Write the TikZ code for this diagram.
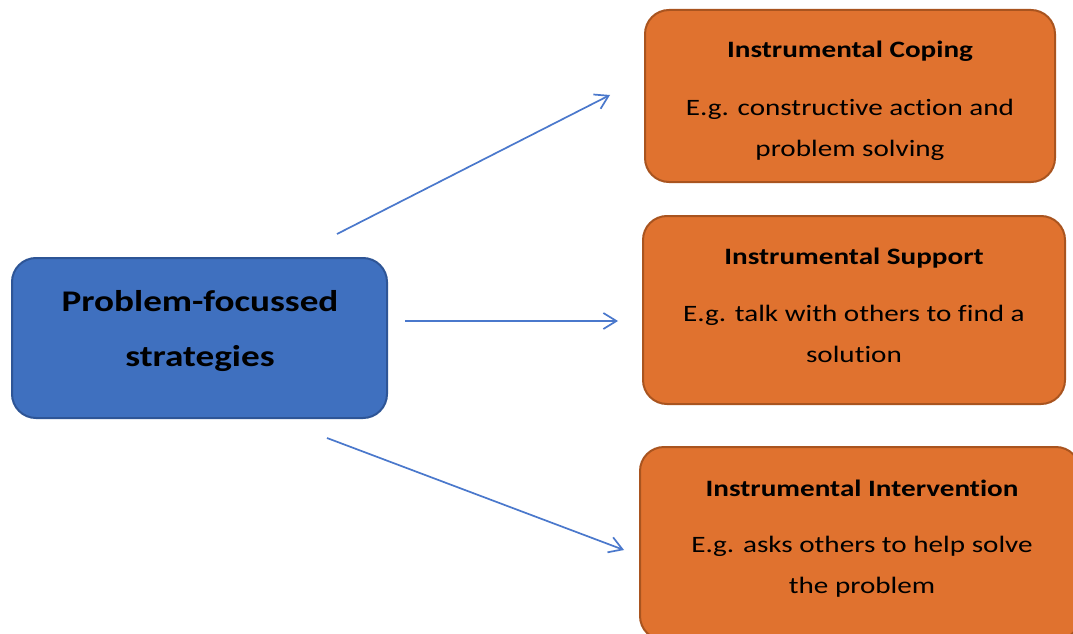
\documentclass[tikz,border=0pt]{standalone}
\usepackage{fontspec}
\setmainfont[FakeStretch=1.24,Ligatures=NoCommon]{Carlito}
\usetikzlibrary{arrows.meta}
\definecolor{bluefill}{HTML}{3F70BF}
\definecolor{blueline}{HTML}{2E5596}
\definecolor{orfill}{HTML}{E0722F}
\definecolor{orline}{HTML}{A9541F}
\definecolor{arrowc}{HTML}{4A78CC}
\tikzset{
  mainbox/.style={draw=blueline, line width=2pt, fill=bluefill, rounded corners=24pt, inner sep=0pt},
  subbox/.style={draw=orline, line width=2pt, fill=orfill, rounded corners=24pt, inner sep=0pt},
  titletext/.style={font=\bfseries\fontsize{23.5}{28}\selectfont, inner sep=0pt, anchor=base},
  bodytext/.style={font=\fontsize{23.5}{41}\selectfont, align=center, inner sep=0pt, anchor=base},
  maintext/.style={font=\bfseries\fontsize{30}{55}\selectfont, align=center, inner sep=0pt, anchor=base},
  conn/.style={draw=arrowc, line width=1.7pt, -{Straight Barb[length=13pt,width=16pt,line width=1.7pt]}}
}
\begin{document}
\begin{tikzpicture}[x=1pt,y=-1pt]
\useasboundingbox[fill=white] (0,0) rectangle (1073,634);
% boxes
\path[mainbox] (12,258) rectangle (387,418) node[pos=0.5] (pfs) {};
\path[subbox] (645,10) rectangle (1055,182) node[pos=0.5] (ic) {};
\path[subbox] (643,216) rectangle (1065,404) node[pos=0.5] (is) {};
\path[subbox] (640,447) rectangle (1080,640) node[pos=0.5] (ii) {};
% texts
\node[maintext] (pfst) at (200,366) {Problem-focussed\\strategies};
\node[titletext] (ict) at (850,58) {Instrumental Coping};
\node[bodytext] (icb) at (850,156) {E.g. constructive action and\\problem solving};
\node[titletext] (ist) at (854,264) {Instrumental Support};
\node[bodytext] (isb) at (854,362) {E.g. talk with others to find a\\solution};
\node[titletext] (iit) at (862,496) {Instrumental Intervention};
\node[bodytext] (iib) at (862,593) {E.g. asks others to help solve\\the problem};
% connector ends
\coordinate (a1s) at (337,234);
\coordinate (a1e) at (610,95);
\coordinate (a2s) at (405,321);
\coordinate (a2e) at (618,321);
\coordinate (a3s) at (327,438);
\coordinate (a3e) at (624,550);
\draw[conn] (a1s) -- (a1e);
\draw[conn] (a2s) -- (a2e);
\draw[conn] (a3s) -- (a3e);
\end{tikzpicture}
\end{document}
